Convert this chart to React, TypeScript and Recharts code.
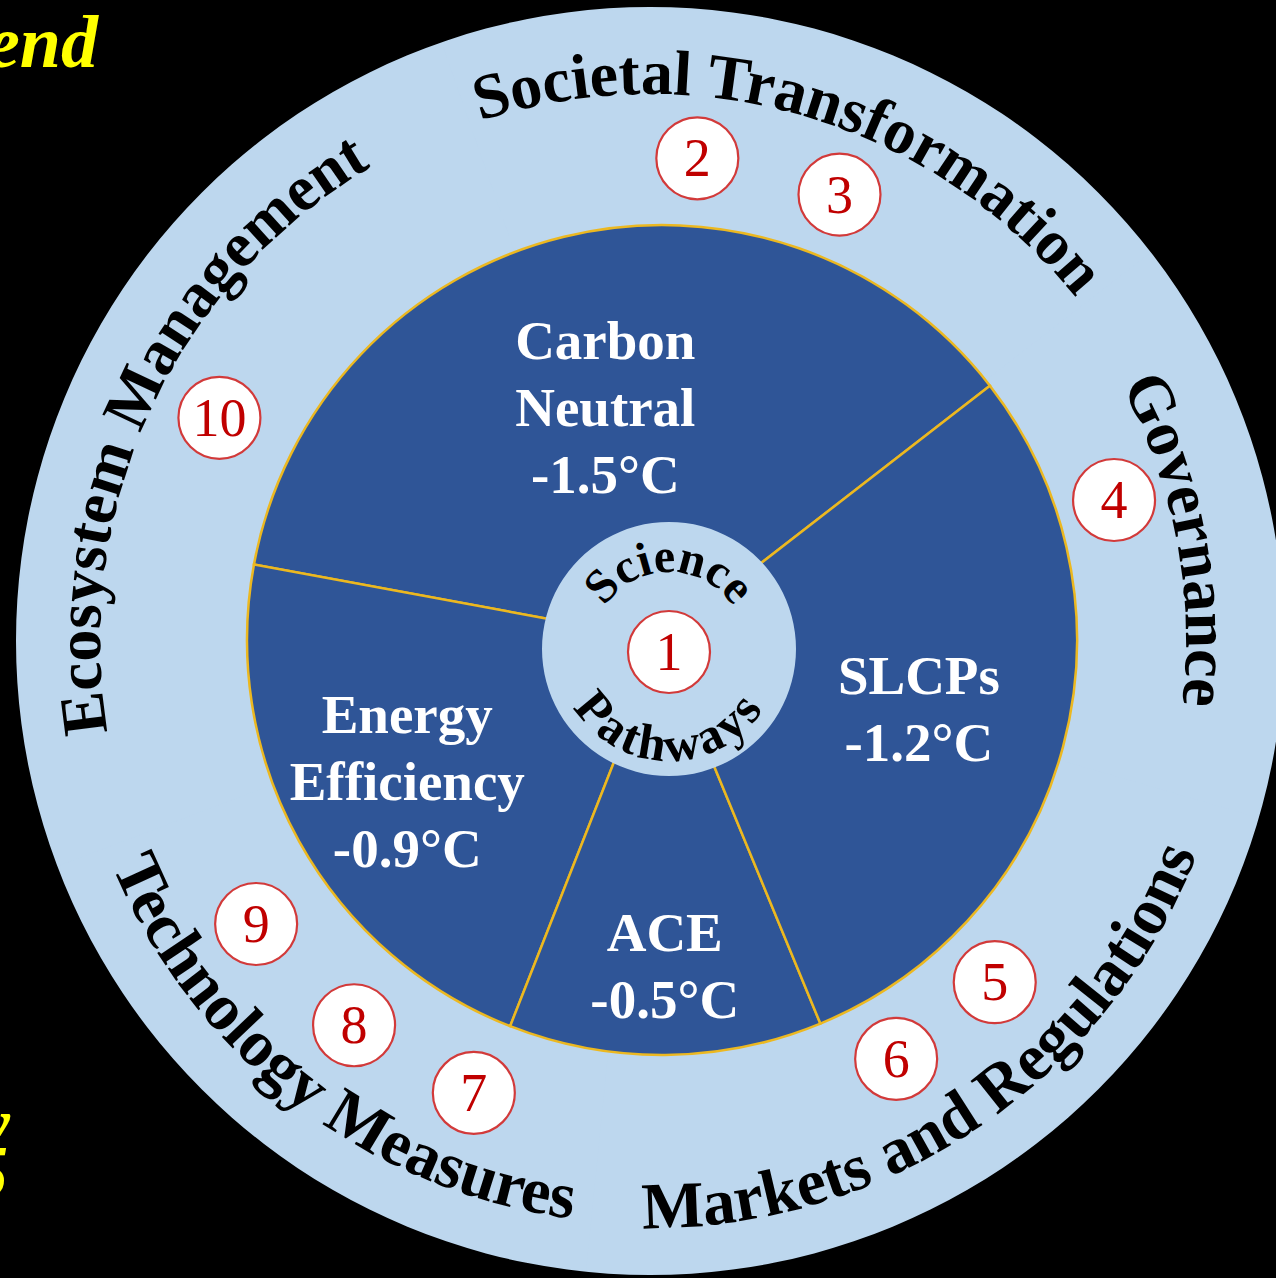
import { PieChart, Pie, Cell } from 'recharts';

// inner pie: cooling contribution of each pathway (°C), drawn counter-clockwise
const sectorNames = ['Carbon Neutral', 'Energy Efficiency', 'ACE', 'SLCPs'];
const sectorCooling = [1.5, 0.9, 0.5, 1.2];

// outer ring: themes and the angular span (deg) each one covers, clockwise from top-left
const ringNames = ['Societal Transformation', 'Governance', 'Markets and Regulations', 'Technology Measures', 'Ecosystem Management'];
const ringSpans = [71.4, 54, 79.6, 63.4, 91.6];

// numbered markers on the ring and their angle (deg, 0 = 3 o'clock)
const markerNums = [2, 3, 4, 5, 6, 7, 8, 9, 10];
const markerAngles = [84.4, 67.0, 16.9, -44.7, -59.5, -111.3, -127.6, -144.3, 152.6];

const centreWords = ['Science', 'Pathways'];
const centreNum = 1;

const W = 1276;
const H = 1278;
const SERIF = "'Liberation Serif', 'Times New Roman', serif";
const LIGHT = '#bdd7ee';
const DARK = '#2f5597';
const GOLD = '#ecb820';
const RED = '#c00000';

const RING_CX = 650;
const RING_CY = 641;
const RING_START = 109.2;
// baseline radius of each ring title (same order as ringNames)
const RING_TEXT_R = [547, 536, 587, 583, 550];
const PIE_CX = 662;
const PIE_CY = 640;
const DISK_CX = 669;
const DISK_CY = 649;

const rad = Math.PI / 180;
const polar = (cx: number, cy: number, r: number, a: number) => ({
  x: cx + r * Math.cos(a * rad),
  y: cy - r * Math.sin(a * rad),
});

function arcPath(cx: number, cy: number, r: number, mid: number, outward: boolean) {
  if (outward) {
    const s = polar(cx, cy, r, mid + 89);
    const e = polar(cx, cy, r, mid - 89);
    return `M${s.x},${s.y} A${r},${r} 0 0 1 ${e.x},${e.y}`;
  }
  const s = polar(cx, cy, r, mid - 89);
  const e = polar(cx, cy, r, mid + 89);
  return `M${s.x},${s.y} A${r},${r} 0 0 0 ${e.x},${e.y}`;
}

function CurvedText({ id, cx, cy, r, mid, outward, text, size, spacing = 0 }: any) {
  return (
    <g>
      <defs>
        <path id={id} d={arcPath(cx, cy, r, mid, outward)} fill="none" />
      </defs>
      <text fontFamily={SERIF} fontWeight="bold" fontSize={size} fill="#000" letterSpacing={spacing}>
        <textPath href={`#${id}`} startOffset="50%" textAnchor="middle">{text}</textPath>
      </text>
    </g>
  );
}

function Marker({ x, y, n }: { x: number; y: number; n: number }) {
  return (
    <g>
      <circle cx={x} cy={y} r={41} fill="#fff" stroke="#d23a3a" strokeWidth={2.2} />
      <text x={x} y={y + 18} textAnchor="middle" fontFamily={SERIF} fontSize={54} fill={RED}>{n}</text>
    </g>
  );
}

const renderRingLabel = (p: any) => {
  const outward = Math.sin(p.midAngle * rad) >= 0;
  return (
    <CurvedText key={`ring-${p.index}`} id={`ring-${p.index}`} cx={p.cx} cy={p.cy}
      r={RING_TEXT_R[p.index]} mid={p.midAngle} outward={outward} text={p.payload.name}
      size={outward ? 64 : 66} />
  );
};

const LINE = 67;
const renderSectorLabel = (p: any) => {
  const span = p.percent * 360;
  const { x, y } = polar(p.cx, p.cy, 368 - 0.97 * span, p.midAngle);
  const lines = [...p.payload.name.split(' '), `-${p.payload.cooling.toFixed(1)}°C`];
  const top = y - ((lines.length - 1) / 2) * LINE;
  return (
    <text key={`sec-${p.index}`} textAnchor="middle" fill="#fff" fontFamily={SERIF} fontWeight="bold" fontSize={55}>
      {lines.map((l, i) => (
        <tspan key={i} x={x} y={top + i * LINE + 19}>{l}</tspan>
      ))}
    </text>
  );
};

const renderCentreLabel = (p: any) => (
  <g key="centre">
    <CurvedText id="centre-top" cx={p.cx} cy={p.cy} r={77} mid={90} outward text={centreWords[0]} size={48} />
    <CurvedText id="centre-bottom" cx={p.cx} cy={p.cy} r={112} mid={-90} outward={false} text={centreWords[1]} size={50} spacing={3} />
    <Marker x={p.cx} y={p.cy + 3} n={centreNum} />
  </g>
);

const renderMarker = (p: any) => {
  const { x, y } = polar(p.cx, p.cy, p.outerRadius, p.midAngle);
  return <Marker key={`m-${p.payload.n}`} x={x} y={y} n={p.payload.n} />;
};

const START = 37.8;

export default function App() {
  const ringData = ringNames.map((name, i) => ({ name, span: ringSpans[i] }));
  const sectorData = sectorNames.map((name, i) => ({ name, cooling: sectorCooling[i] }));

  return (
    <div style={{ position: 'absolute', left: 0, top: 0, width: W, height: H, background: '#000', overflow: 'hidden' }}>
      <PieChart width={W} height={H} margin={{ top: 0, right: 0, bottom: 0, left: 0 }}>
        <Pie data={[{ v: 1 }]} dataKey="v" cx={RING_CX} cy={RING_CY} outerRadius={634}
          isAnimationActive={false} stroke="none" fill={LIGHT} />
        <Pie data={ringData} dataKey="span" nameKey="name" cx={RING_CX} cy={RING_CY} outerRadius={632}
          startAngle={RING_START} endAngle={RING_START - 360} isAnimationActive={false}
          labelLine={false} label={renderRingLabel} stroke="none">
          {ringData.map((d) => <Cell key={d.name} fill={LIGHT} />)}
        </Pie>
        <Pie data={sectorData} dataKey="cooling" nameKey="name" cx={PIE_CX} cy={PIE_CY} outerRadius={415}
          startAngle={START} endAngle={START + 360} isAnimationActive={false}
          labelLine={false} label={renderSectorLabel} stroke={GOLD} strokeWidth={2.5}>
          {sectorData.map((d) => <Cell key={d.name} fill={DARK} />)}
        </Pie>
        <Pie data={[{ name: centreWords.join(' '), v: 1 }]} dataKey="v" cx={DISK_CX} cy={DISK_CY} outerRadius={127}
          isAnimationActive={false} labelLine={false} label={renderCentreLabel} stroke="none" fill={LIGHT} />
        {markerNums.map((n, i) => (
          <Pie key={n} data={[{ n, v: 1 }]} dataKey="v" cx={RING_CX} cy={RING_CY} outerRadius={485}
            startAngle={markerAngles[i] - 0.5} endAngle={markerAngles[i] + 0.5} isAnimationActive={false}
            fill="none" stroke="none" labelLine={false} label={renderMarker} />
        ))}
      </PieChart>
      <svg width={W} height={H} style={{ position: 'absolute', left: 0, top: 0, pointerEvents: 'none' }}>
        <g fontFamily={SERIF} fontWeight="bold" fontStyle="italic" fill="#ffff00" fontSize={74} textAnchor="end">
          <text x={98} y={67}>end</text>
          <text x={10} y={1148}>y</text>
          <text x={8} y={1197}>5</text>
        </g>
      </svg>
    </div>
  );
}
